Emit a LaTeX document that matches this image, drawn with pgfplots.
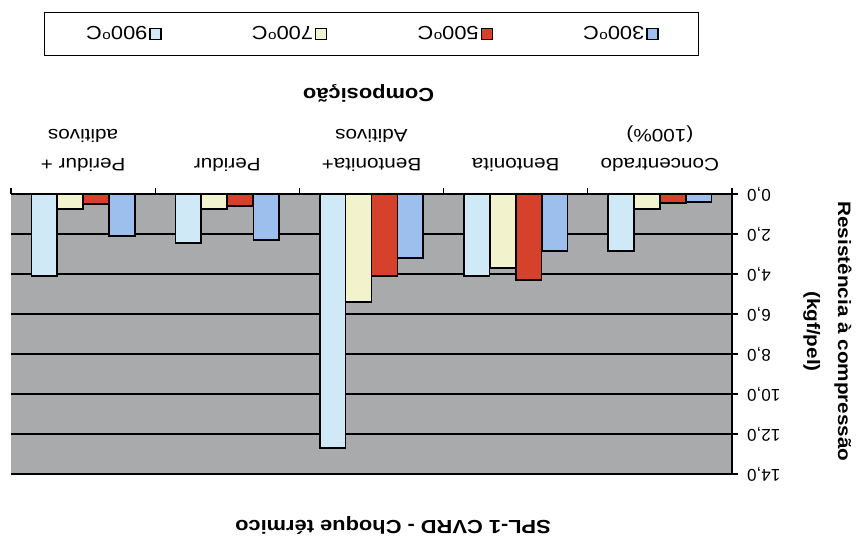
\documentclass[border=0pt]{standalone}
\usepackage{pgfplots}
\pgfplotsset{compat=1.18}
\usepackage{graphicx}
\usepackage{fontspec}
\setmainfont{Liberation Sans}
\newfontfamily\wide{Liberation Sans}[FakeStretch=1.15]
\definecolor{plotbg}{HTML}{A9AAAC}
\definecolor{cA}{HTML}{9DBFEE}
\definecolor{cB}{HTML}{D6412B}
\definecolor{cC}{HTML}{F2F2CC}
\definecolor{cD}{HTML}{CFE9F6}
\newcommand{\R}[1]{\rotatebox[origin=c]{180}{#1}}
\pgfplotsset{sqlegend/.style={legend image code/.code={\draw[##1,line width=1.4pt] (0pt,-5.5pt) rectangle (11pt,5.5pt);}}}
\begin{document}
\begin{tikzpicture}
\begin{axis}[
  width=721pt, height=280pt, scale only axis,
  xmin=-0.5, xmax=4.5, ymin=0, ymax=14,
  x dir=reverse, y dir=reverse,
  axis x line*=top, axis y line*=right, axis line style={-, black, line width=1.3pt},
  axis background/.style={fill=plotbg},
  clip=false,
  ybar=0pt, bar width=0.178,
  xtick={-0.5,0.5,...,4.5},
  x tick label as interval,
  xticklabels={
    {\R{\begin{tabular}{@{}c@{}}Concentrado\\(100\%)\end{tabular}}},
    {\R{\begin{tabular}{@{}c@{}}Bentonita\end{tabular}}},
    {\R{\begin{tabular}{@{}c@{}}Bentonita+\\Aditivos\end{tabular}}},
    {\R{\begin{tabular}{@{}c@{}}Peridur\end{tabular}}},
    {\R{\begin{tabular}{@{}c@{}}Peridur +\\aditivos\end{tabular}}}},
  xticklabel style={font=\wide\fontsize{18}{29}\selectfont, inner sep=0pt},
  xticklabel shift=9pt,
  ytick={0,2,...,14},
  yticklabels={{\R{0,0}},{\R{2,0}},{\R{4,0}},{\R{6,0}},{\R{8,0}},{\R{10,0}},{\R{12,0}},{\R{14,0}}},
  yticklabel style={font=\fontsize{17}{20}\selectfont, inner sep=0pt},
  yticklabel shift=9pt,
  ymajorgrids, major grid style={black, line width=1.1pt},
  tick align=outside, major tick length=6pt,
  tick style={black, line width=1.1pt},
  legend style={at={(axis cs:2.0,-8.0)}, anchor=center, draw=black, line width=1.4pt,
    fill=white, inner xsep=40pt, inner ysep=12pt, legend columns=4,
    font=\wide\fontsize{19}{22}\selectfont,
    /tikz/every even column/.append style={column sep=88pt},
    nodes={inner sep=2pt}},
  legend plot pos=right, reverse legend,
]
\addplot[bar shift=-0.27, fill=cA, draw=black, line width=1.6pt, sqlegend]
  coordinates {(0,0.4) (1,2.85) (2,3.2) (3,2.3) (4,2.1)};
\addlegendentry{\R{300\textsuperscript{o}C}}
\addplot[bar shift=-0.09, fill=cB, draw=black, line width=1.6pt, sqlegend]
  coordinates {(0,0.45) (1,4.3) (2,4.1) (3,0.6) (4,0.5)};
\addlegendentry{\R{500\textsuperscript{o}C}}
\addplot[bar shift=0.09, fill=cC, draw=black, line width=1.6pt, sqlegend]
  coordinates {(0,0.75) (1,3.7) (2,5.4) (3,0.75) (4,0.75)};
\addlegendentry{\R{700\textsuperscript{o}C}}
\addplot[bar shift=0.27, fill=cD, draw=black, line width=1.6pt, sqlegend]
  coordinates {(0,2.85) (1,4.1) (2,12.7) (3,2.45) (4,4.1)};
\addlegendentry{\R{900\textsuperscript{o}C}}
\node[rotate=180, font=\wide\bfseries\fontsize{19}{22}\selectfont] at (axis cs:2.02,-5.05) {Composição};
\node[rotate=-90, align=center, font=\wide\bfseries\fontsize{18}{31}\selectfont] at (axis cs:-1.162,6.875) {Resistência à compressão\\(kgf/pel)};
\node[rotate=180, font=\wide\bfseries\fontsize{19}{22}\selectfont] at (axis cs:1.851,16.55) {SPL-1 CVRD - Choque térmico};
\coordinate (bbA) at (axis cs:4.5763,-9.7);
\coordinate (bbB) at (axis cs:-1.3946,17.15);
\end{axis}
\pgfresetboundingbox
\path[use as bounding box] (bbA) rectangle (bbB);
\end{tikzpicture}
\end{document}
